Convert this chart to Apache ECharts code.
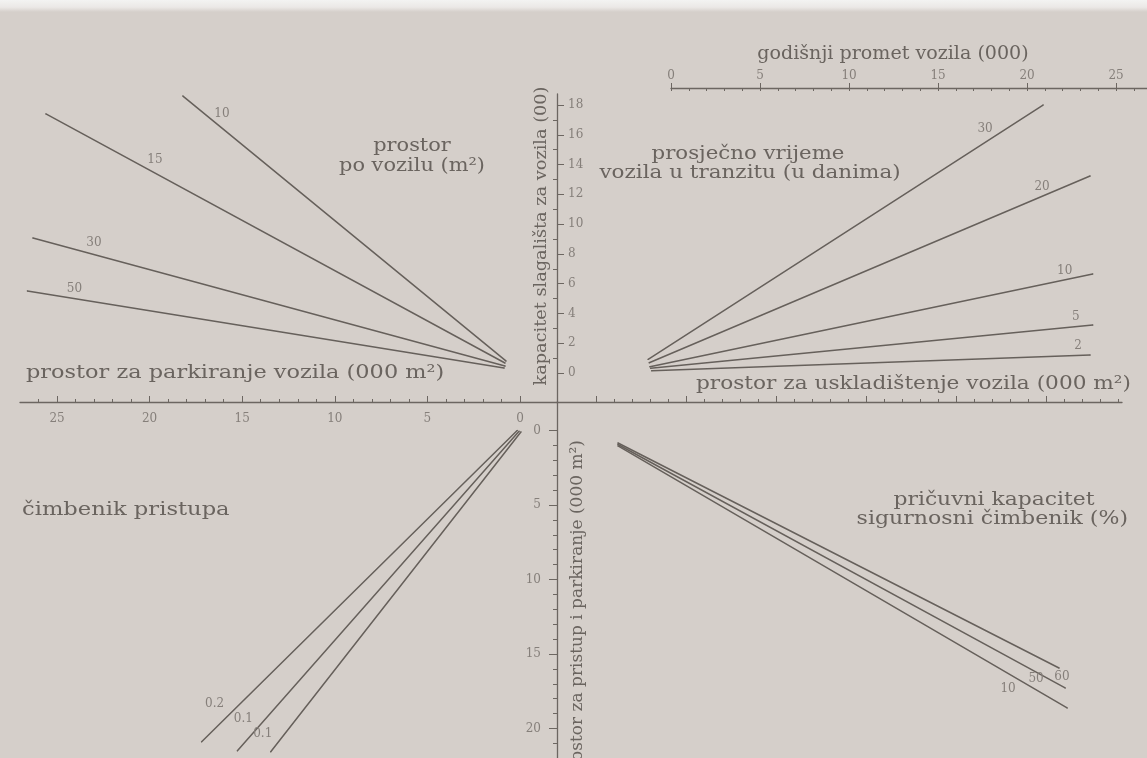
<!DOCTYPE html>
<html>
<head>
<meta charset="utf-8">
<script src="https://cdn.jsdelivr.net/npm/echarts@6/dist/echarts.min.js"></script>
<style>
html,body{margin:0;padding:0;background:#d5cfca;}
#chart{width:1147px;height:758px;}
</style>
</head>
<body>
<div id="chart"></div>
<script>
// ================= DATA =================
// Upper-left quadrant: space per vehicle (m²) -> parking space (000 m²) vs storage capacity (00)
const ulNames    = ['10', '15', '30', '50'];
const ulParking  = [[0.76, 18.2], [0.81, 25.6], [0.81, 26.3], [0.86, 26.6]];
const ulCapacity = [[0.81, 18.6], [0.67, 17.4], [0.47, 9.07], [0.34, 5.51]];

// Upper-right quadrant: average transit time (days) -> annual traffic (000) vs capacity (00)
const urNames    = ['30', '20', '10', '5', '2'];
const urTraffic  = [[-1.28, 20.9], [-1.22, 23.54], [-1.18, 23.69], [-1.14, 23.69], [-1.08, 23.54]];
const urCapacity = [[0.92, 18.0], [0.69, 13.23], [0.42, 6.65], [0.32, 3.22], [0.15, 1.21]];

// Lower-left quadrant: access factor -> parking space vs access + parking space (000 m²)
const llNames   = ['0.2', '0.1', '0.1'];
const llParking = [[0.15, 17.19], [0.05, 15.26], [-0.05, 13.46]];
const llAccess  = [[0.0, 20.89], [0.05, 21.49], [0.1, 21.56]];

// Lower-right quadrant: reserve capacity / safety factor (%) -> storage space vs access space
const lrNames   = ['60', '50', '10'];
const lrStorage = [[1.22, 25.72], [1.22, 26.06], [1.22, 26.17]];
const lrAccess  = [[0.84, 15.94], [0.94, 17.28], [1.04, 18.62]];

// Tick labels
const capacityTicks = [0, 2, 4, 6, 8, 10, 12, 14, 16, 18];
const capacityMinor = [1, 3, 5, 7, 9, 11, 13, 15, 17];
const parkingTicks  = [0, 5, 10, 15, 20, 25];
const parkingMinor  = [0, 1, 2, 3, 4, 5, 6, 7, 8, 9, 10, 11, 12, 13, 14, 15, 16, 17, 18, 19, 20, 21, 22, 23, 24, 25, 26];
const trafficTicks  = [0, 5, 10, 15, 20, 25];
const trafficMinor  = [0, 1, 2, 3, 4, 5, 6, 7, 8, 9, 10, 11, 12, 13, 14, 15, 16, 17, 18, 19, 20, 21, 22, 23, 24, 25, 26];
const accessTicks   = [0, 5, 10, 15, 20];
const accessMinor   = [0, 1, 2, 3, 4, 5, 6, 7, 8, 9, 10, 11, 12, 13, 14, 15, 16, 17, 18, 19, 20, 21];
const storageTicks  = [0, 5, 10, 15, 20, 25];
const storageMinor  = [0, 1, 2, 3, 4, 5, 6, 7, 8, 9, 10, 11, 12, 13, 14, 15, 16, 17, 18, 19, 20, 21, 22, 23, 24, 25, 26, 27, 28, 29];

// Texts
const textTop       = 'godišnji promet vozila (000)';
const textUL        = ['prostor', 'po vozilu (m²)'];
const textUR        = ['prosječno vrijeme', 'vozila u tranzitu (u danima)'];
const textParking   = 'prostor za parkiranje vozila (000 m²)';
const textStorage   = 'prostor za uskladištenje vozila (000 m²)';
const textAccessF   = 'čimbenik pristupa';
const textReserve   = ['pričuvni kapacitet', 'sigurnosni čimbenik (%)'];
const textCapacity  = 'kapacitet slagališta za vozila (00)';
const textAccessAx  = 'prostor za pristup i parkiranje (000 m²)';

// ================= STYLE / LAYOUT =================
const lineColor = '#66605b';
const axisColor = '#6c6661';
const textColor = '#6a645f';
const numColor  = '#857f7a';
const serif = '"DejaVu Serif", "Liberation Serif", serif';

// label offsets (px) of each line label, relative to the outer end of the line
const ulLabelOff = [[39, 18], [109, 46], [61, 5], [47, -2]];
const urLabelOff = [[-58, 24], [-48, 11], [-28, -3], [-17, -8], [-12, -9]];
const llLabelOff = [[13, -38], [6, -32], [-8, -18]];
const lrLabelOff = [[3, 9], [-29, -9], [-59, -19]];

const numLabel = {color: numColor, fontFamily: serif, fontSize: 12};

function hiddenAxis(o) {
  return Object.assign({type: 'value', show: false, splitLine: {show: false},
    axisLine: {show: false, onZero: false}}, o);
}
function tickAxis(o, ticks, len, inside, line, labels) {
  const ax = {
    type: 'value', splitLine: {show: false},
    axisLine: {show: !!line, onZero: false, lineStyle: {color: axisColor, width: 1.3}},
    axisTick: {show: true, customValues: ticks, inside: inside, length: len,
      lineStyle: {color: axisColor, width: 1}},
    axisLabel: labels ? Object.assign({show: true, customValues: ticks}, numLabel, labels) : {show: false}
  };
  return Object.assign(ax, o);
}

const grids = [
  {left: 20,  top: 94,  width: 537, height: 308},   // 0 upper-left
  {left: 557, top: 94,  width: 590, height: 308},   // 1 upper-right
  {left: 20,  top: 402, width: 537, height: 356},   // 2 lower-left
  {left: 557, top: 402, width: 565, height: 356},   // 3 lower-right
  {left: 671, top: 88,  width: 476, height: 10}     // 4 top traffic axis
];

const xAxes = [
  // 0: parking space, visible, major
  tickAxis({gridIndex: 0, position: 'bottom', inverse: true, min: -2, max: 27}, parkingTicks, 6, true, true, {margin: 11}),
  // 1: parking space minor ticks
  tickAxis({gridIndex: 0, position: 'bottom', inverse: true, min: -2, max: 27}, parkingMinor, 3, true, false, null),
  // 2: traffic units for upper-right lines (hidden)
  hiddenAxis({gridIndex: 1, min: -6.4, max: 26.74}),
  // 3: parking units for lower-left lines (hidden)
  hiddenAxis({gridIndex: 2, inverse: true, min: -2, max: 27}),
  // 4: storage space, visible line + major ticks
  tickAxis({gridIndex: 3, position: 'top', min: -2.17, max: 29.22}, storageTicks, 6, false, true, null),
  // 5: storage minor ticks
  tickAxis({gridIndex: 3, position: 'top', min: -2.17, max: 29.22}, storageMinor, 3, false, false, null),
  // 6: annual traffic axis (top)
  tickAxis({gridIndex: 4, position: 'top', min: 0, max: 26.74}, trafficTicks, 5, false, true, {margin: 6}),
  // 7: annual traffic minor ticks
  tickAxis({gridIndex: 4, position: 'top', min: 0, max: 26.74}, trafficMinor, 3, true, false, null)
];

const yAxes = [
  // 0: capacity (upper-left), minor ticks pointing left
  tickAxis({gridIndex: 0, position: 'right', min: -1.95, max: 18.74}, capacityMinor, 4, true, false, null),
  // 1: capacity visible axis
  tickAxis({gridIndex: 1, position: 'left', min: -1.95, max: 18.74}, capacityTicks, 7, true, true, {inside: true, margin: 11}),
  // 2: access + parking space visible
  tickAxis({gridIndex: 2, position: 'right', inverse: true, min: -1.91, max: 21.98}, accessTicks, 8, true, true, {inside: true, margin: 16}),
  // 3: access minor ticks
  tickAxis({gridIndex: 2, position: 'right', inverse: true, min: -1.91, max: 21.98}, accessMinor, 4, true, false, null),
  // 4: access units for lower-right lines (hidden)
  hiddenAxis({gridIndex: 3, inverse: true, min: -1.91, max: 21.98}),
  // 5: dummy for top axis grid
  hiddenAxis({gridIndex: 4, min: 0, max: 1})
];

function lineSeries(name, xs, ys, xi, yi, off) {
  return {
    type: 'line', name: name, xAxisIndex: xi, yAxisIndex: yi,
    symbol: 'circle', symbolSize: 1, silent: true, animation: false,
    lineStyle: {color: lineColor, width: 1.5, cap: 'round'},
    itemStyle: {color: lineColor},
    data: [
      [xs[0], ys[0]],
      {value: [xs[1], ys[1]],
       label: Object.assign({show: true, position: 'inside', offset: off, formatter: name,
         align: 'center', verticalAlign: 'middle'}, numLabel)}
    ]
  };
}

const series = [];
ulNames.forEach((n, i) => series.push(lineSeries(n, ulParking[i], ulCapacity[i], 0, 0, ulLabelOff[i])));
urNames.forEach((n, i) => series.push(lineSeries(n, urTraffic[i], urCapacity[i], 2, 1, urLabelOff[i])));
llNames.forEach((n, i) => series.push(lineSeries(n, llParking[i], llAccess[i], 3, 2, llLabelOff[i])));
lrNames.forEach((n, i) => series.push(lineSeries(n, lrStorage[i], lrAccess[i], 4, 4, lrLabelOff[i])));

// Text placements: [text, x, y, align, fontSize, scaleX, rotation]
const textLayout = [
  [textTop,        893, 54,  'center', 18, 1.06, 0],
  [textUL[0],      412, 146, 'center', 19, 1.10, 0],
  [textUL[1],      412, 166, 'center', 19, 1.10, 0],
  [textUR[0],      748, 154, 'center', 19, 1.12, 0],
  [textUR[1],      750, 173, 'center', 19, 1.13, 0],
  [textParking,    26,  373, 'left',   19, 1.18, 0],
  [textStorage,    1131, 384, 'right', 19, 1.14, 0],
  [textAccessF,    22,  510, 'left',   19, 1.19, 0],
  [textReserve[0], 994, 500, 'center', 19, 1.15, 0],
  [textReserve[1], 1128, 519, 'right', 19, 1.16, 0],
  [textCapacity,   542, 236, 'center', 17, 1.04, Math.PI / 2],
  [textAccessAx,   578, 440, 'right',  17, 1.00, Math.PI / 2]
];

const graphic = [
  {type: 'rect', z: -10, silent: true, shape: {x: 0, y: 0, width: 1147, height: 12},
   style: {fill: new echarts.graphic.LinearGradient(0, 0, 0, 1, [
     {offset: 0, color: '#f3f3f2'}, {offset: 0.6, color: '#ebe8e6'}, {offset: 1, color: '#d5cfca'}])}}
].concat(textLayout.map(t => ({
  type: 'text', x: t[1], y: t[2], rotation: t[6], scaleX: t[5], silent: true, z: 10,
  style: {text: t[0], fill: textColor, fontFamily: serif, fontSize: t[4],
    align: t[3], verticalAlign: 'middle', textAlign: t[3], textVerticalAlign: 'middle'}
})));

const chart = echarts.init(document.getElementById('chart'), null, {renderer: 'canvas'});
chart.setOption({
  backgroundColor: '#d5cfca',
  animation: false,
  grid: grids,
  xAxis: xAxes,
  yAxis: yAxes,
  series: series,
  graphic: graphic
});
</script>
</body>
</html>
